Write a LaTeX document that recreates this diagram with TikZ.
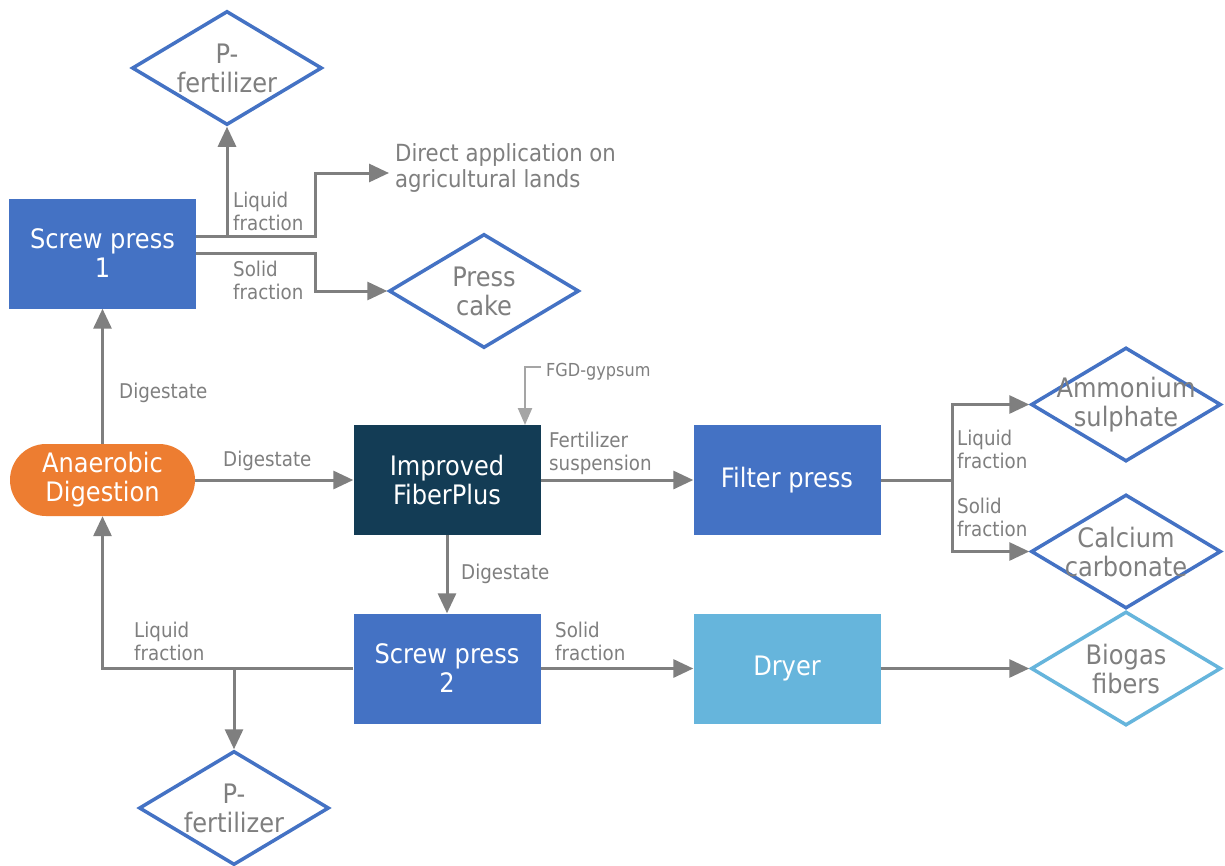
\documentclass[tikz,border=0pt]{standalone}
\usepackage{fontspec}
\setmainfont{DejaVu Sans}[FakeStretch=0.9]
\usetikzlibrary{arrows.meta,shapes.geometric}
\definecolor{bx}{HTML}{4472C4}
\definecolor{org}{HTML}{ED7D31}
\definecolor{dk}{HTML}{133C55}
\definecolor{lb}{HTML}{66B5DC}
\definecolor{ln}{HTML}{7F7F7F}
\definecolor{lnl}{HTML}{A5A5A5}
\definecolor{tx}{HTML}{7F7F7F}
\begin{document}
\begin{tikzpicture}[x=1pt,y=-1pt,
  box/.style={fill=#1, minimum width=187pt, minimum height=110pt, inner sep=0pt, text=white, align=center, font=\fontsize{26.8}{29}\selectfont},
  dia/.style={shape=diamond, draw=#1, line width=3.5pt, minimum width=190pt, minimum height=114pt, inner sep=0pt},
  dtext/.style={text=tx, align=center, inner sep=0pt, font=\fontsize{26.8}{29}\selectfont},
  lab/.style={text=tx, align=left, inner sep=0pt, anchor=west, font=\fontsize{20.3}{23}\selectfont},
  line/.style={draw=ln, line width=3pt},
  arr/.style={line, -{Triangle[length=20pt,width=18pt]}},
  arrl/.style={draw=lnl, line width=2.4pt, -{Triangle[length=17pt,width=14pt]}}
]
\useasboundingbox (0,0) rectangle (1225,865);
\clip (0,0) rectangle (1225,865);
\fill[white] (0,0) rectangle (1225,865);

% process nodes
\node[box=bx] (sp1) at (102.5,253.5) {Screw press\\1};
\node[fill=org, rounded corners=36pt, minimum width=185pt, minimum height=72pt, inner sep=0pt, text=white, align=center, font=\fontsize{26.8}{29}\selectfont] (ad) at (102.5,480) {Anaerobic\\Digestion};
\node[box=dk] (fp) at (447,480) {Improved\\FiberPlus};
\node[box=bx] (filt) at (787,480) {Filter press};
\node[box=bx] (sp2) at (447,668.5) {Screw press\\2};
\node[box=lb] (dry) at (787,668.5) {Dryer};

% product diamonds
\node[dia=bx] (pf1) at (227,68) {};
\node[dtext] (pf1t) at (pf1) {P-\\fertilizer};
\node[dia=bx] (cake) at (484,291) {};
\node[dtext] (caket) at (cake) {Press\\cake};
\node[dia=bx] (amm) at (1126,404.5) {};
\node[dtext] (ammt) at (amm) {Ammonium\\sulphate};
\node[dia=bx] (cal) at (1126,551.5) {};
\node[dtext] (calt) at (cal) {Calcium\\carbonate};
\node[dia=lb] (bio) at (1126,668.5) {};
\node[dtext] (biot) at (bio) {Biogas\\fibers};
\node[dia=bx] (pf2) at (234,808) {};
\node[dtext] (pf2t) at (pf2) {P-\\fertilizer};

\node[text=tx, align=left, inner sep=0pt, anchor=west, font=\fontsize{23.6}{26}\selectfont] (direct) at (395,168) {Direct application on\\agricultural lands};
\node[text=tx, inner sep=0pt, anchor=west, font=\fontsize{17.9}{20}\selectfont] (fgd) at (546,372) {FGD-gypsum};

% branch points
\coordinate (b1) at (227,236);
\coordinate (fs) at (952,480);
\coordinate (b2) at (234,668.5);
\coordinate (g0) at (541,367);

% connectors
\draw[arr] ([yshift=17.5pt]sp1.east) -- (315,236) |- ([xshift=-6pt,yshift=-5pt]direct.west);
\draw[arr] (b1) -- (pf1.south);
\draw[arr] (sp1.east) -- (315,253.5) |- (cake.west);
\draw[arr] (ad.north) -- (sp1.south);
\draw[arr] (ad.east) -- (fp.west);
\draw[arrl] (g0) -- (525,367) -- (525,425);
\draw[arr] (fp.east) -- (filt.west);
\draw[line] (filt.east) -- (fs);
\draw[arr] (fs) |- (amm.west);
\draw[arr] (fs) |- (cal.west);
\draw[arr] (fp.south) -- (sp2.north);
\draw[arr] (sp2.east) -- (dry.west);
\draw[arr] (dry.east) -- (bio.west);
\draw[arr] (sp2.west) -| (ad.south);
\draw[arr] (b2) -- (pf2.north);

% labels
\node[lab] (l1) at (233,211) {Liquid\\fraction};
\node[lab] (l2) at (233,280) {Solid\\fraction};
\node[lab] (l3) at (119,393) {Digestate};
\node[lab] (l4) at (223,461) {Digestate};
\node[lab] (l5) at (549,453) {Fertilizer\\suspension};
\node[lab] (l6) at (957,449) {Liquid\\fraction};
\node[lab] (l7) at (957,517) {Solid\\fraction};
\node[lab] (l8) at (461,574) {Digestate};
\node[lab] (l9) at (555,641) {Solid\\fraction};
\node[lab] (l10) at (134,641) {Liquid\\fraction};
\end{tikzpicture}
\end{document}
